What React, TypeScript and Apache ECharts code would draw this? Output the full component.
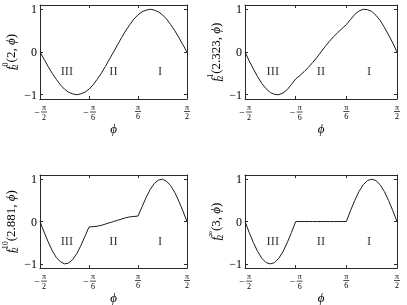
import React, { useEffect, useRef } from "react";
import * as echarts from "echarts";

// angle phi in degrees (-90 = -pi/2 ... 90 = pi/2)
const phi = [-90, -85, -80, -75, -70, -65, -60, -55, -50, -45, -40, -35, -30, -25, -20, -15, -10, -5, 0, 5, 10, 15, 20, 25, 30, 35, 40, 45, 50, 55, 60, 65, 70, 75, 80, 85, 90];

const f2_0 = [0, -0.17, -0.34, -0.5, -0.64, -0.77, -0.87, -0.94, -0.98, -1, -0.98, -0.94, -0.87, -0.77, -0.64, -0.5, -0.34, -0.17, 0, 0.17, 0.34, 0.5, 0.64, 0.77, 0.87, 0.94, 0.98, 1, 0.98, 0.94, 0.87, 0.77, 0.64, 0.5, 0.34, 0.17, 0];
const f2_1 = [0, -0.21, -0.4, -0.58, -0.74, -0.86, -0.95, -0.99, -1, -0.96, -0.88, -0.76, -0.63, -0.55, -0.46, -0.36, -0.25, -0.13, 0, 0.13, 0.25, 0.36, 0.46, 0.55, 0.64, 0.76, 0.88, 0.96, 1, 0.99, 0.95, 0.86, 0.74, 0.58, 0.4, 0.21, 0];
const f2_10 = [0, -0.25, -0.48, -0.69, -0.85, -0.95, -1, -0.98, -0.9, -0.76, -0.57, -0.35, -0.13, -0.12, -0.11, -0.09, -0.06, -0.03, 0, 0.03, 0.06, 0.09, 0.11, 0.12, 0.13, 0.35, 0.57, 0.76, 0.9, 0.98, 1, 0.95, 0.85, 0.69, 0.48, 0.25, 0];
const f2_inf = [0, -0.26, -0.5, -0.71, -0.87, -0.97, -1, -0.97, -0.87, -0.71, -0.5, -0.26, 0, 0, 0, 0, 0, 0, 0, 0, 0, 0, 0, 0, 0, 0.26, 0.5, 0.71, 0.87, 0.97, 1, 0.97, 0.87, 0.71, 0.5, 0.26, 0];

const panelValues = [f2_0, f2_1, f2_10, f2_inf];
const panelSup = ["0", "1", "10", "∞"];
const panelArg = ["2", "2.323", "2.881", "3"];

const xTickValues = [-90, -30, 30, 90];
const xTickSigns = ["−", "−", "", ""];
const xTickDens = ["2", "6", "6", "2"];
const yTickValues = [-1, 0, 1];
const yTickLabels = ["−1", "0", "1"];

const regionNames = ["III", "II", "I"];
const regionX = [-57, 0, 57];
const regionY = -0.45;

const FONT = '"Liberation Serif", "DejaVu Serif", serif';
const INK = "#000";
const FRAME = "#2a2a2a";

const grids = [
  { left: 34, top: 5, width: 153, height: 94 },
  { left: 245, top: 5, width: 152, height: 94 },
  { left: 34, top: 175, width: 153, height: 94 },
  { left: 245, top: 175, width: 152, height: 94 },
];

const fracRich: any = {
  m: { fontFamily: FONT, fontSize: 10, width: 8, align: "center", lineHeight: 4, color: INK },
  sp: { fontSize: 1, width: 8, lineHeight: 6 },
  n: { fontFamily: FONT, fontSize: 8, width: 6, align: "center", lineHeight: 6, color: INK },
  bar: { fontSize: 1, width: 6, height: 0.7, lineHeight: 3, backgroundColor: INK },
  d: { fontFamily: FONT, fontSize: 8, width: 6, align: "center", lineHeight: 6, color: INK },
};

function xLabel(v: number) {
  const k = xTickValues.findIndex((t) => Math.abs(t - v) < 1e-6);
  if (k < 0) return "";
  const sign = xTickSigns[k];
  const den = xTickDens[k];
  if (sign) {
    return `{sp|\u00a0}{n|π}\n{m|${sign}}{bar|\u00a0}\n{sp|\u00a0}{d|${den}}`;
  }
  return `{n|π}\n{bar|\u00a0}\n{d|${den}}`;
}

function yLabel(v: number) {
  const k = yTickValues.findIndex((t) => Math.abs(t - v) < 1e-6);
  return k < 0 ? "" : yTickLabels[k];
}

const nameRich: any = {
  f: { fontFamily: FONT, fontSize: 13, fontStyle: "italic", lineHeight: 18, color: INK },
  sb: { fontFamily: FONT, fontSize: 8, width: 0, verticalAlign: "bottom", lineHeight: 9, color: INK },
  sp: { fontFamily: FONT, fontSize: 8, verticalAlign: "top", lineHeight: 9, color: INK },
  t: { fontFamily: FONT, fontSize: 13, lineHeight: 18, color: INK },
  p: { fontFamily: FONT, fontSize: 13, fontStyle: "italic", lineHeight: 18, color: INK },
};

function buildOption() {
  const xAxis: any[] = [];
  const yAxis: any[] = [];
  const series: any[] = [];
  const axisLine = { show: true, onZero: false, lineStyle: { color: FRAME, width: 1 } };
  grids.forEach((_, i) => {
    const xt = { show: true, inside: true, length: 3, customValues: xTickValues, lineStyle: { color: FRAME } };
    const yt = { show: true, inside: true, length: 3, customValues: yTickValues, lineStyle: { color: FRAME } };
    xAxis.push({
      gridIndex: i, type: "value", position: "bottom", min: -90, max: 90,
      axisLine, axisTick: xt, splitLine: { show: false },
      axisLabel: { show: true, customValues: xTickValues, formatter: xLabel, rich: fracRich, margin: 5, color: INK },
      name: "ϕ", nameLocation: "middle", nameGap: 18,
      nameTextStyle: { fontFamily: FONT, fontSize: 13, fontStyle: "italic", color: INK },
    });
    xAxis.push({
      gridIndex: i, type: "value", position: "top", min: -90, max: 90,
      axisLine, axisTick: xt, splitLine: { show: false }, axisLabel: { show: false },
    });
    yAxis.push({
      gridIndex: i, type: "value", position: "left", min: -1.1, max: 1.1,
      axisLine, axisTick: yt, splitLine: { show: false },
      axisLabel: { show: true, customValues: yTickValues, formatter: yLabel, fontFamily: FONT, fontSize: 12, margin: 3, color: INK },
      name: `{f|f}{sb|2}{sp|${panelSup[i]}}{t|(${panelArg[i]}, }{p|ϕ}{t|)}`,
      nameLocation: "middle", nameGap: 21,
      nameTextStyle: { fontFamily: FONT, fontSize: 13, color: INK, rich: nameRich },
    });
    yAxis.push({
      gridIndex: i, type: "value", position: "right", min: -1.1, max: 1.1,
      axisLine, axisTick: yt, splitLine: { show: false }, axisLabel: { show: false },
    });
    series.push({
      type: "line", xAxisIndex: 2 * i, yAxisIndex: 2 * i,
      data: phi.map((p, k) => [p, panelValues[i][k]]),
      showSymbol: false, symbol: "none", silent: true,
      lineStyle: { color: "#1a1a1a", width: 1 },
    });
    series.push({
      type: "scatter", xAxisIndex: 2 * i, yAxisIndex: 2 * i, symbolSize: 1, silent: true,
      itemStyle: { color: "transparent" },
      data: regionNames.map((n, k) => ({ name: n, value: [regionX[k], regionY] })),
      label: { show: true, position: "inside", formatter: "{b}", fontFamily: FONT, fontSize: 12.5, color: INK },
    });
  });
  return { animation: false, backgroundColor: "transparent", grid: grids, xAxis, yAxis, series };
}

export default function App() {
  const ref = useRef<HTMLDivElement>(null);
  useEffect(() => {
    const chart = echarts.init(ref.current!, null, { renderer: "svg" });
    chart.setOption(buildOption());
    return () => chart.dispose();
  }, []);
  return (
    <div
      ref={ref}
      style={{ position: "fixed", left: 0, top: 0, width: 407, height: 305, willChange: "transform" }}
    />
  );
}
